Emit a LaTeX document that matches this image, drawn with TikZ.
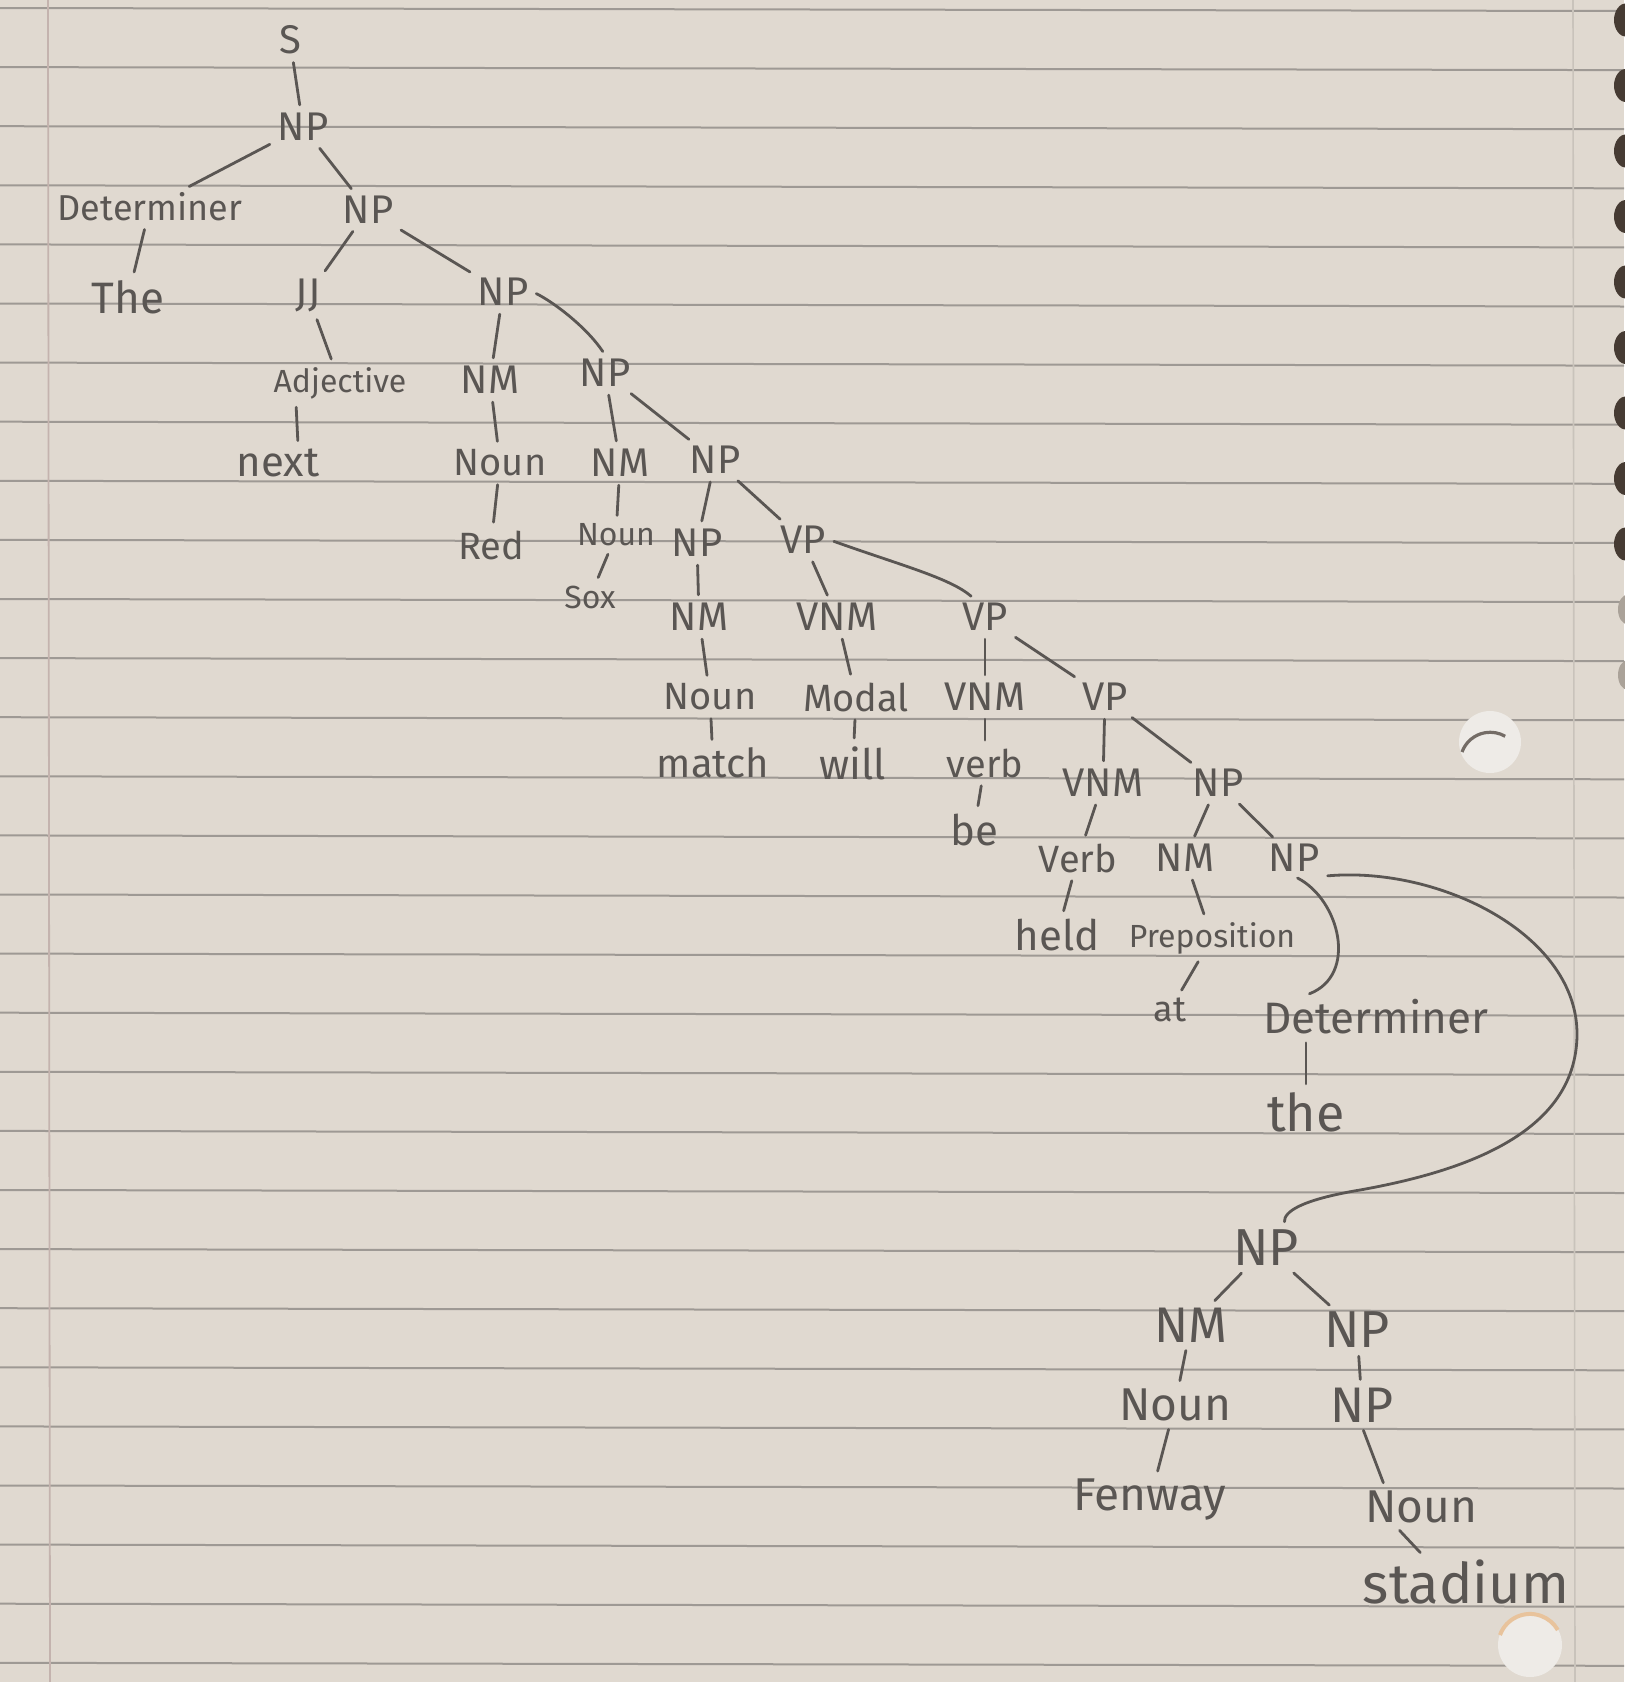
\documentclass[tikz,border=0pt]{standalone}
\usepackage{fontspec}
\setmainfont{Fira Sans}
\usetikzlibrary{calc}

\definecolor{paper}{HTML}{E0D9D0}
\definecolor{ruleline}{HTML}{9E9994}
\definecolor{marginline}{HTML}{C4B3AE}
\definecolor{pencil}{HTML}{5A5653}
\definecolor{wire}{HTML}{463B33}
\definecolor{punch}{HTML}{EEEBE7}

\newcommand\penfs[1]{\fontsize{#1}{#1}\selectfont}

\begin{document}
\begin{tikzpicture}[x=0.5pt,y=-0.5pt,
  cat/.style={text=pencil, inner sep=2pt, font=\penfs{20}},
  wrd/.style={text=pencil, inner sep=2pt, font=\penfs{19}},
  br/.style={draw=pencil, line width=1.4pt, line cap=round,
             shorten >=2pt, shorten <=2pt},
  ruling/.style={draw=ruleline, line width=1pt}]

\useasboundingbox (0,0) rectangle (1624,1682);

% notebook page
\fill[paper] (0,0) rectangle (1624,1682);
\foreach \k in {0,...,28}
  \draw[ruling] (0,{8+59.1*\k}) -- (1624,{11+59.1*\k});
\draw[marginline, line width=0.9pt] (48,0) -- (50,1682);
\draw[ruleline!35!paper, line width=0.8pt] (1573,0) -- (1575,1682);

% spiral binding
\foreach \k in {0,...,8}
  \fill[wire] (1627,{20+65.5*\k}) ellipse (13 and 17);
\foreach \k in {9,10}
  \fill[wire!35!paper] (1628,{20+65.5*\k}) ellipse (10 and 15);

% punched holes
\fill[punch] (1490,742) circle (31);
\draw[wire!75, line width=1.6pt] (1462,752) arc[start angle=200, end angle=300, radius=30];
\fill[punch] (1530,1645) circle (32);
\draw[orange!25!paper, line width=2pt] (1500,1635) arc[start angle=200, end angle=330, radius=32];

% parse tree
\node[cat] (s)    at (290,40)  {S};
\node[cat] (np1)  at (303,127) {NP};
\node[wrd, font=\penfs{18}] (det1) at (150,207) {Determiner};
\node[wrd, font=\penfs{22}] (the1) at (128,297) {The};
\node[cat] (np2)  at (368,210) {NP};
\node[cat] (jj)   at (308,295) {JJ};
\node[cat] (np3)  at (503,292) {NP};
\node[wrd, font=\penfs{16}] (adj) at (340,383) {Adjective};
\node[wrd, font=\penfs{21}] (next) at (278,463) {next};
\node[cat] (nm1)  at (490,380) {NM};
\node[cat] (np4)  at (605,373) {NP};
\node[wrd] (noun1) at (500,463) {Noun};
\node[wrd] (red)   at (491,545) {Red};
\node[cat] (nm2)  at (620,463) {NM};
\node[cat] (np5)  at (715,460) {NP};
\node[wrd, font=\penfs{16}] (noun2) at (616,535) {Noun};
\node[wrd, font=\penfs{16}] (sox)   at (590,597) {Sox};
\node[cat] (np6)  at (697,543) {NP};
\node[cat] (vp1)  at (803,540) {VP};
\node[cat] (nm3)  at (699,617) {NM};
\node[wrd] (noun3) at (710,697) {Noun};
\node[wrd, font=\penfs{20}] (match) at (713,763) {match};
\node[cat] (vnm1) at (837,617) {VNM};
\node[wrd] (modal) at (856,697) {Modal};
\node[wrd, font=\penfs{21}] (will) at (853,763) {will};
\node[cat] (vp2)  at (985,617) {VP};
\node[cat] (vnm2) at (985,697) {VNM};
\node[wrd] (verb1) at (985,763) {verb};
\node[wrd, font=\penfs{21}] (be) at (974,830) {be};
\node[cat] (vp3)  at (1105,697) {VP};
\node[cat] (vnm3) at (1103,783) {VNM};
\node[wrd] (verb2) at (1078,858) {Verb};
\node[wrd, font=\penfs{21}] (held) at (1057,935) {held};
\node[cat] (np7)  at (1218,783) {NP};
\node[cat] (nm4)  at (1185,858) {NM};
\node[wrd, font=\penfs{16}] (prep) at (1212,938) {Preposition};
\node[wrd, font=\penfs{18}] (at)   at (1170,1010) {at};
\node[cat] (np8)  at (1294,858) {NP};
\node[wrd, font=\penfs{22}] (det2) at (1376,1017) {Determiner};
\node[wrd, font=\penfs{26}] (the2) at (1306,1112) {the};
\node[cat, font=\penfs{26}] (np9)  at (1266,1248) {NP};
\node[cat, font=\penfs{25}] (nm5)  at (1191,1325) {NM};
\node[wrd, font=\penfs{23}] (noun4) at (1175,1405) {Noun};
\node[wrd, font=\penfs{23}] (fenway) at (1150,1500) {Fenway};
\node[cat, font=\penfs{26}] (np10) at (1357,1330) {NP};
\node[cat, font=\penfs{25}] (np11) at (1362,1405) {NP};
\node[wrd, font=\penfs{23}] (noun5) at (1421,1507) {Noun};
\node[wrd, font=\penfs{28}] (stadium) at (1466,1582) {stadium};

% branches
\draw[br] (s) -- (np1);
\draw[br] (np1) -- (det1);
\draw[br] (np1) -- (np2);
\draw[br] (det1) -- (the1);
\draw[br] (np2) -- (jj);
\draw[br] (np2) -- (np3);
\draw[br] (jj) -- (adj);
\draw[br] (adj.south -| next.north) ++(18,0) -- ($(next.north)+(20,0)$);
\draw[br] (np3) -- (nm1);
\draw[br] (np3.east) .. controls (550,300) and (585,325) .. (np4.north);
\draw[br] (nm1) -- (noun1);
\draw[br] (noun1) -- (red);
\draw[br] (np4) -- (nm2);
\draw[br] (np4) -- (np5);
\draw[br] (nm2) -- (noun2);
\draw[br] (noun2) -- (sox);
\draw[br] (np5) -- (np6);
\draw[br] (np5) -- (vp1);
\draw[br] (np6) -- (nm3);
\draw[br] (nm3) -- (noun3);
\draw[br] (noun3) -- (match);
\draw[br] (vp1) -- (vnm1);
\draw[br] (vp1.east) .. controls (900,565) and (950,578) .. ($(vp2.north west)!0.6!(vp2.north)$);
\draw[br] (vnm1) -- (modal);
\draw[br] (modal) -- (will);
\draw[br] (vp2) -- (vnm2);
\draw[br] (vp2) -- (vp3);
\draw[br] (vnm2) -- (verb1);
\draw[br] (verb1) -- (be);
\draw[br] (vp3) -- (vnm3);
\draw[br] (vp3) -- (np7);
\draw[br] (vnm3) -- (verb2);
\draw[br] (verb2) -- (held);
\draw[br] (np7) -- (nm4);
\draw[br] (np7) -- (np8);
\draw[br] (nm4) -- (prep);
\draw[br] (prep) -- (at);
\draw[br] (np8.south) .. controls (1340,900) and (1358,975) .. ($(det2.north west)!0.4!(det2.north)$);
\draw[br] (det2.south -| the2.north) -- (the2.north);
\draw[br] (np8.south east) .. controls (1440,866) and (1578,935) .. (1577,1035)
          .. controls (1576,1135) and (1460,1172) .. (1360,1190)
          .. controls (1300,1200) and (1284,1212) .. ($(np9.north)!0.5!(np9.north east)$);
\draw[br] (np9) -- (nm5);
\draw[br] (np9) -- (np10);
\draw[br] (nm5) -- (noun4);
\draw[br] (noun4) -- (fenway);
\draw[br] (np10) -- (np11);
\draw[br] (np11.south) -- ($(noun5.north west)!0.2!(noun5.north east)$);
\draw[br] ($(noun5.south west)!0.3!(noun5.south east)$) -- ($(stadium.north west)!0.3!(stadium.north east)$);

\end{tikzpicture}
\end{document}
